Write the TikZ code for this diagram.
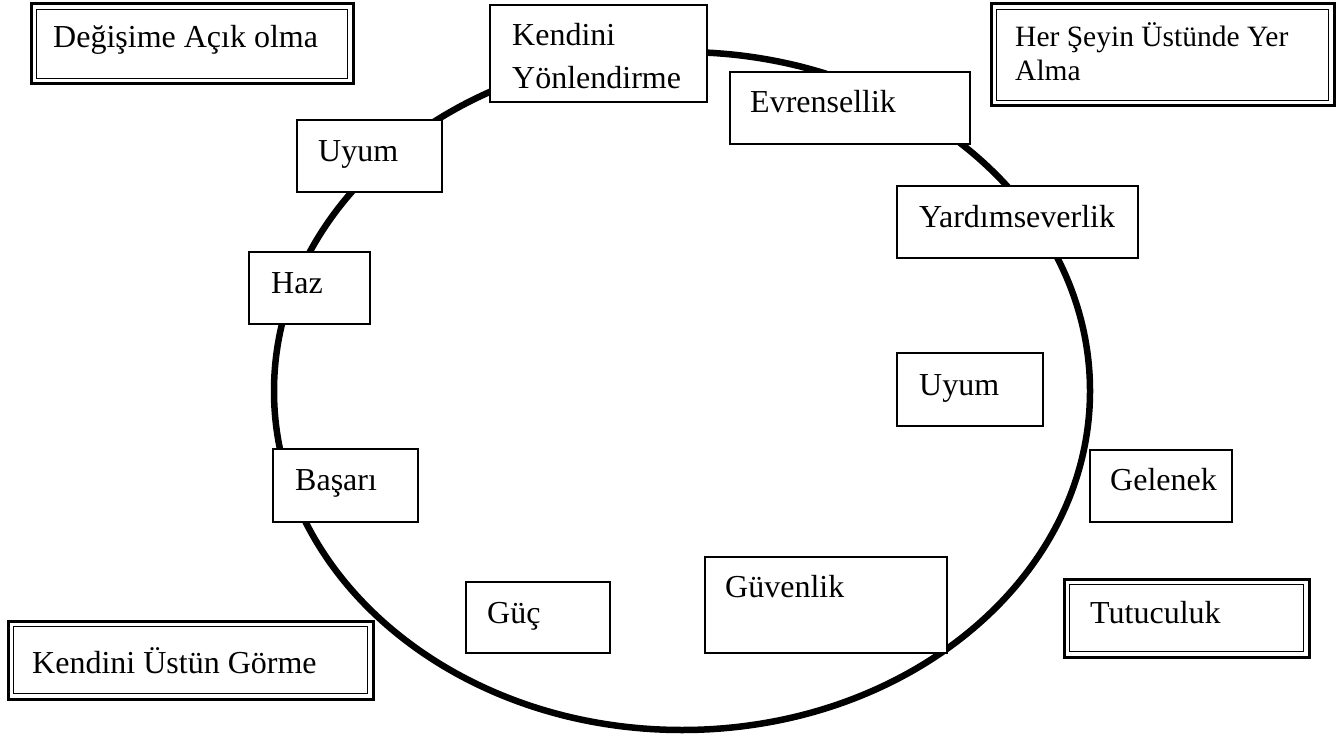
\documentclass[tikz,border=0pt]{standalone}
\usepackage{fontspec}
\setmainfont{Liberation Serif}
\begin{document}
\begin{tikzpicture}[x=1pt,y=-1pt,
  valbox/.style={draw=black, line width=1.2pt, fill=white, inner sep=0pt, outer sep=0pt, anchor=north west},
  groupbox/.style={draw=black, line width=3pt, fill=white, inner sep=0pt, outer sep=0pt, anchor=north west},
  innerline/.style={draw=black, line width=1.2pt},
  lbl/.style={anchor=base west, inner sep=0pt, font=\fontsize{32}{38}\selectfont},
  smalllbl/.style={lbl, font=\fontsize{29.5}{35}\selectfont},
  ring/.style={draw=black, line width=6.5pt}]

\useasboundingbox (0,0) rectangle (1343,738);

% the ring of values
\draw[ring] (682,391) ellipse [x radius=408, y radius=339];

% higher-order groups (double frames)
\node[groupbox, minimum width=322pt, minimum height=80pt] (dac) at (31,4) {};
\node[groupbox, minimum width=343pt, minimum height=102pt] (hsy) at (991,4) {};
\node[groupbox, minimum width=245pt, minimum height=78pt] (tut) at (1064,579) {};
\node[groupbox, minimum width=365pt, minimum height=78pt] (kug) at (8,621) {};
\foreach \n in {dac,hsy,tut,kug}
  \draw[innerline] ([xshift=5.5pt,yshift=-5.5pt]\n.north west) rectangle ([xshift=-5.5pt,yshift=5.5pt]\n.south east);

% value types
\node[valbox, minimum width=217pt, minimum height=97pt] (ky) at (490,5) {};
\node[valbox, minimum width=240pt, minimum height=72pt] (evr) at (730,72) {};
\node[valbox, minimum width=145pt, minimum height=72pt] (uy1) at (297,120) {};
\node[valbox, minimum width=121pt, minimum height=72pt] (haz) at (249,252) {};
\node[valbox, minimum width=145pt, minimum height=73pt] (bas) at (273,449) {};
\node[valbox, minimum width=241pt, minimum height=72pt] (yar) at (897,186) {};
\node[valbox, minimum width=146pt, minimum height=73pt] (uy2) at (897,353) {};
\node[valbox, minimum width=142pt, minimum height=72pt] (gel) at (1090,450) {};
\node[valbox, minimum width=144pt, minimum height=71pt] (guc) at (466,582) {};
\node[valbox, minimum width=242pt, minimum height=96pt] (guv) at (705,557) {};

% labels
\node[lbl] (dac-t) at (53,48) {Değişime Açık olma};
\node[smalllbl] (hsy-t1) at (1015,47) {Her Şeyin Üstünde Yer};
\node[smalllbl] (hsy-t2) at (1015,81) {Alma};
\node[lbl] (tut-t) at (1090,623) {Tutuculuk};
\node[lbl] (kug-t) at (32,673) {Kendini Üstün Görme};
\node[lbl] (ky-t1) at (512,46) {Kendini};
\node[lbl] (ky-t2) at (512,89) {Yönlendirme};
\node[lbl] (evr-t) at (750,113) {Evrensellik};
\node[lbl] (uy1-t) at (318,162) {Uyum};
\node[lbl] (haz-t) at (271,293) {Haz};
\node[lbl] (bas-t) at (295,490) {Başarı};
\node[lbl] (yar-t) at (919,227) {Yardımseverlik};
\node[lbl] (uy2-t) at (919,395) {Uyum};
\node[lbl] (gel-t) at (1110,490) {Gelenek};
\node[lbl] (guc-t) at (487,623) {Güç};
\node[lbl] (guv-t) at (725,597) {Güvenlik};
\end{tikzpicture}
\end{document}
